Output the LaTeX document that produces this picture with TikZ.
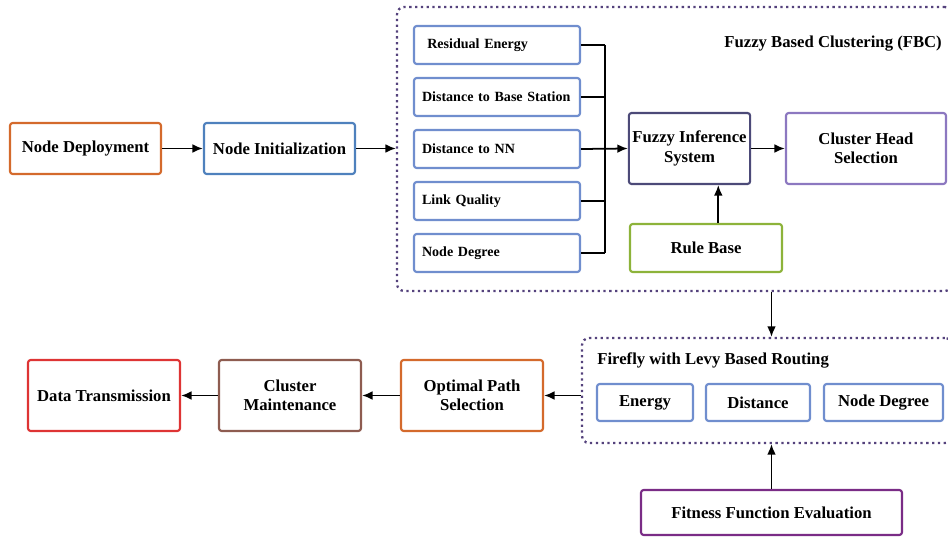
\documentclass[tikz,border=0pt]{standalone}
\usepackage{fontspec}
\setmainfont{Liberation Serif}
\usetikzlibrary{arrows.meta}

\begin{document}
\begin{tikzpicture}[x=0.02cm,y=-0.02cm,>=Latex,
  box/.style={draw,line width=1.2pt,rounded corners=1.5pt,fill=white,
    align=center,font=\fontsize{9.5}{11}\selectfont\bfseries,inner sep=2pt},
  inbox/.style={box,draw=cIn,minimum width=3.32cm,minimum height=0.76cm,
    inner xsep=0.16cm,text width=3cm,align=left,
    font=\fontsize{8}{10}\selectfont\bfseries},
  group/.style={draw=cGroup,line width=1.3pt,dotted,rounded corners=4pt},
  arr/.style={->,line width=1pt,>={Latex[length=6pt,width=5pt]}}]

% colors
\definecolor{cDep}{RGB}{212,106,44}
\definecolor{cInit}{RGB}{79,129,189}
\definecolor{cIn}{RGB}{112,142,206}
\definecolor{cFis}{RGB}{76,74,120}
\definecolor{cChs}{RGB}{140,120,192}
\definecolor{cRule}{RGB}{141,179,58}
\definecolor{cGroup}{RGB}{84,66,124}
\definecolor{cFit}{RGB}{122,44,134}
\definecolor{cMaint}{RGB}{142,92,80}
\definecolor{cData}{RGB}{222,52,52}

\useasboundingbox (0,0) rectangle (948,537);
\clip (0,0) rectangle (948,537);

% dotted groups
\node[group,minimum width=11.1cm,minimum height=5.68cm] (fbc) at (674.5,149) {};
\node[group,minimum width=7.4cm,minimum height=2.1cm] (fire) at (767,390.5) {};
\node[anchor=east,font=\fontsize{9.5}{11}\selectfont\bfseries] (fbct) at (948,44)
  {Fuzzy Based Clustering (FBC)};
\node[anchor=west,inner sep=0pt,font=\fontsize{9.5}{11}\selectfont\bfseries] (firet) at (597,360)
  {Firefly with Levy Based Routing};

% first row
\node[box,draw=cDep,minimum width=3.02cm,minimum height=1.02cm] (dep) at (85.5,148.5) {Node Deployment};
\node[box,draw=cInit,minimum width=3.02cm,minimum height=1.02cm] (init) at (279.5,148.5) {Node Initialization};

% fuzzy inputs
\node[inbox] (re) at (497,45) {\hspace{3pt}Residual Energy};
\node[inbox] (dbs) at (497,97) {Distance to Base Station};
\node[inbox] (dnn) at (497,149) {Distance to NN};
\node[inbox] (lq) at (497,201) {Link Quality};
\node[inbox] (nd) at (497,253) {Node Degree};
\coordinate (bus) at (605,149);

\node[box,draw=cFis,minimum width=2.38cm,minimum height=1.42cm] (fis) at (689.5,148.5) {Fuzzy Inference\\System};
\node[box,draw=cChs,minimum width=3.2cm,minimum height=1.42cm] (chs) at (866,148.5) {Cluster Head\\Selection};
\node[box,draw=cRule,minimum width=3.04cm,minimum height=0.96cm] (rb) at (706,248) {Rule Base};

% routing
\node[box,draw=cIn,minimum width=1.92cm,minimum height=0.74cm] (en) at (645,402.5) {Energy};
\node[box,draw=cIn,minimum width=2.08cm,minimum height=0.74cm] (dis) at (758,402.5) {Distance};
\node[box,draw=cIn,minimum width=2.38cm,minimum height=0.74cm] (ndg) at (883.5,402.5) {Node Degree};
\node[box,draw=cFit,minimum width=5.22cm,minimum height=0.9cm] (ffe) at (771.5,512.5) {Fitness Function Evaluation};

% bottom row
\node[box,draw=cDep,minimum width=2.84cm,minimum height=1.42cm] (ops) at (472,395.5) {Optimal Path\\Selection};
\node[box,draw=cMaint,minimum width=2.84cm,minimum height=1.42cm] (cm) at (290,395.5) {Cluster\\Maintenance};
\node[box,draw=cData,minimum width=3.04cm,minimum height=1.42cm] (dt) at (104,395.5) {Data Transmission};

% connectors
\draw[arr] (dep) -- (init);
\draw[arr] (init) -- (init -| fbc.west);
\foreach \n in {re,dbs,lq,nd}
  \draw[line width=1pt] (\n.east) -- (\n.east -| bus);
\draw[line width=1pt] (re.east -| bus) -- (nd.east -| bus);
\draw[arr] (dnn.east) -- (fis.west);
\draw[arr] (fis) -- (chs);
\draw[arr] ([xshift=7pt]rb.north) -- ([xshift=7pt]rb.north |- fis.south);
\draw[arr] (ffe.north |- fbc.south) -- (ffe.north |- fire.north);
\draw[arr] (ffe.north) -- (ffe.north |- fire.south);
\draw[arr] (fire.west |- ops) -- (ops.east);
\draw[arr] (ops) -- (cm);
\draw[arr] (cm) -- (dt);

\end{tikzpicture}
\end{document}
